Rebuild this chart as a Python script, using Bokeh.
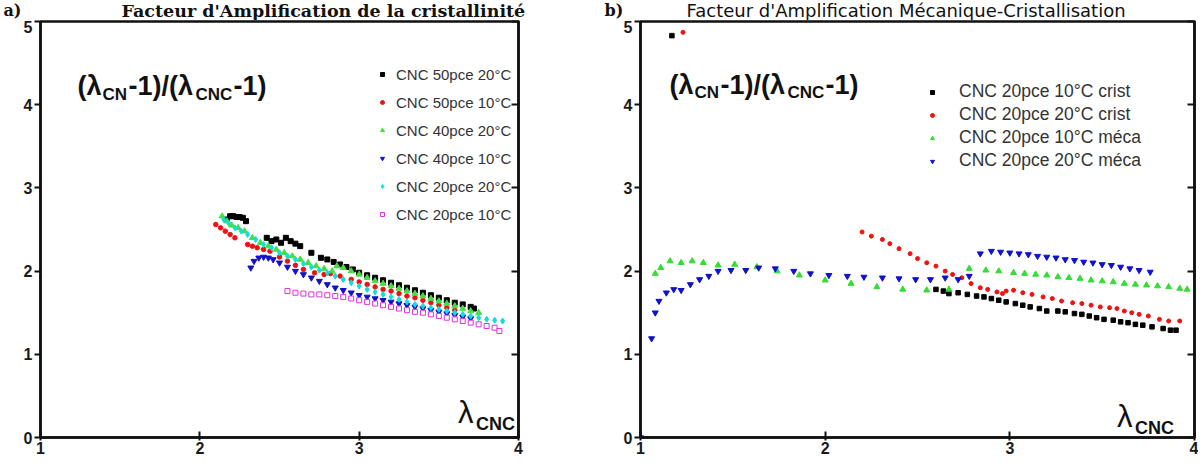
from bokeh.plotting import figure
from bokeh.models import Range1d, LinearAxis, Legend, LegendItem, Label, FixedTicker
from bokeh.layouts import row, column
from bokeh.embed import file_html
from bokeh.resources import INLINE

# ---------------- data: panel a) ----------------
a_labels = ["CNC 50pce 20°C", "CNC 50pce 10°C", "CNC 40pce 20°C",
            "CNC 40pce 10°C", "CNC 20pce 20°C", "CNC 20pce 10°C"]

a50_20_x = [2.17, 2.19, 2.21, 2.23, 2.25, 2.27, 2.29, 2.42, 2.45, 2.48, 2.51, 2.54, 2.57, 2.60, 2.63,
            2.70, 2.76, 2.80, 2.84, 2.88, 2.92, 2.96, 3.00, 3.05, 3.10, 3.15, 3.20, 3.25, 3.30, 3.35,
            3.40, 3.45, 3.50, 3.55, 3.60, 3.65, 3.70, 3.72]
a50_20_y = [2.62, 2.66, 2.66, 2.65, 2.65, 2.64, 2.60, 2.40, 2.36, 2.38, 2.34, 2.40, 2.36, 2.33, 2.30,
            2.22, 2.16, 2.14, 2.11, 2.08, 2.05, 2.02, 1.98, 1.95, 1.92, 1.89, 1.86, 1.83, 1.80, 1.77,
            1.74, 1.71, 1.68, 1.65, 1.62, 1.60, 1.57, 1.55]

a50_10_x = [2.10, 2.13, 2.16, 2.19, 2.22, 2.30, 2.33, 2.36, 2.40, 2.44, 2.50, 2.55, 2.60, 2.65,
            2.72, 2.78, 2.82, 2.88, 2.95, 3.00, 3.05, 3.10, 3.15, 3.20, 3.25, 3.30, 3.35, 3.40,
            3.45, 3.50, 3.55, 3.60]
a50_10_y = [2.56, 2.52, 2.48, 2.44, 2.40, 2.32, 2.30, 2.28, 2.26, 2.24, 2.17, 2.12, 2.07, 2.02,
            1.98, 1.96, 1.97, 1.94, 1.90, 1.87, 1.84, 1.81, 1.78, 1.76, 1.73, 1.70, 1.68, 1.65,
            1.62, 1.59, 1.56, 1.53]

a40_20_x = [2.14, 2.17, 2.20, 2.24, 2.28, 2.33, 2.38, 2.43, 2.48, 2.53, 2.58, 2.63, 2.68, 2.73,
            2.78, 2.83, 2.86, 2.90, 2.95, 3.00, 3.05, 3.10, 3.15, 3.20, 3.25, 3.30, 3.35, 3.40,
            3.45, 3.50, 3.55, 3.60, 3.65, 3.70, 3.75]
a40_20_y = [2.66, 2.60, 2.55, 2.52, 2.48, 2.40, 2.34, 2.30, 2.26, 2.22, 2.18, 2.14, 2.10, 2.06,
            2.03, 2.00, 2.06, 2.04, 2.00, 1.96, 1.92, 1.88, 1.85, 1.82, 1.79, 1.76, 1.73, 1.70,
            1.67, 1.64, 1.61, 1.58, 1.55, 1.52, 1.50]

a40_10_x = [2.32, 2.34, 2.37, 2.40, 2.43, 2.46, 2.50, 2.55, 2.60, 2.65, 2.70, 2.75, 2.80, 2.85,
            2.90, 2.95, 3.00, 3.05, 3.10, 3.15, 3.20, 3.25, 3.30, 3.35, 3.40, 3.45, 3.50, 3.55,
            3.60, 3.65, 3.70]
a40_10_y = [2.04, 2.12, 2.16, 2.17, 2.16, 2.14, 2.10, 2.05, 2.00, 1.96, 1.92, 1.88, 1.84, 1.80,
            1.77, 1.74, 1.71, 1.69, 1.67, 1.65, 1.63, 1.61, 1.59, 1.57, 1.55, 1.53, 1.51, 1.49,
            1.47, 1.45, 1.43]

a20_20_x = [2.15, 2.18, 2.22, 2.26, 2.30, 2.35, 2.40, 2.45, 2.50, 2.55, 2.60, 2.65, 2.70, 2.75,
            2.80, 2.85, 2.90, 2.95, 3.00, 3.05, 3.10, 3.15, 3.20, 3.25, 3.30, 3.35, 3.40, 3.45,
            3.50, 3.55, 3.60, 3.65, 3.70, 3.75, 3.80, 3.85, 3.90]
a20_20_y = [2.62, 2.58, 2.52, 2.48, 2.44, 2.38, 2.32, 2.28, 2.22, 2.18, 2.14, 2.09, 2.05, 2.01,
            1.98, 1.94, 1.90, 1.86, 1.82, 1.78, 1.75, 1.72, 1.69, 1.66, 1.63, 1.60, 1.58, 1.56,
            1.54, 1.52, 1.50, 1.48, 1.46, 1.44, 1.42, 1.41, 1.40]

a20_10_x = [2.55, 2.60, 2.65, 2.70, 2.75, 2.80, 2.85, 2.90, 2.95, 3.00, 3.05, 3.10, 3.15, 3.20,
            3.25, 3.30, 3.35, 3.40, 3.45, 3.50, 3.55, 3.60, 3.65, 3.70, 3.75, 3.80, 3.85, 3.88]
a20_10_y = [1.76, 1.74, 1.73, 1.72, 1.72, 1.71, 1.70, 1.69, 1.67, 1.65, 1.63, 1.61, 1.59, 1.57,
            1.55, 1.53, 1.51, 1.50, 1.48, 1.46, 1.44, 1.42, 1.40, 1.38, 1.36, 1.34, 1.32, 1.28]

# ---------------- data: panel b) ----------------
b_labels = ["CNC 20pce 10°C crist", "CNC 20pce 20°C crist",
            "CNC 20pce 10°C méca", "CNC 20pce 20°C méca"]

b10c_x = [1.17, 2.60, 2.64, 2.67, 2.72, 2.77, 2.82, 2.86, 2.90, 2.94, 2.98, 3.03, 3.07, 3.11,
          3.16, 3.20, 3.26, 3.30, 3.35, 3.39, 3.43, 3.47, 3.51, 3.56, 3.60, 3.64, 3.68, 3.72,
          3.77, 3.83, 3.87, 3.90]
b10c_y = [4.83, 1.78, 1.76, 1.73, 1.74, 1.72, 1.70, 1.69, 1.67, 1.65, 1.63, 1.61, 1.59, 1.57,
          1.55, 1.52, 1.52, 1.51, 1.49, 1.48, 1.46, 1.44, 1.42, 1.41, 1.39, 1.38, 1.36, 1.35,
          1.33, 1.31, 1.29, 1.29]

b20c_x = [1.23, 2.20, 2.25, 2.31, 2.35, 2.40, 2.46, 2.50, 2.55, 2.60, 2.65, 2.69, 2.74, 2.79,
          2.84, 2.88, 2.93, 2.96, 2.98, 3.02, 3.07, 3.12, 3.18, 3.23, 3.28, 3.34, 3.39, 3.44,
          3.49, 3.54, 3.58, 3.62, 3.66, 3.70, 3.75, 3.81, 3.86, 3.92]
b20c_y = [4.87, 2.47, 2.42, 2.38, 2.33, 2.27, 2.21, 2.15, 2.10, 2.06, 2.00, 1.96, 1.92, 1.85,
          1.80, 1.78, 1.75, 1.73, 1.76, 1.77, 1.74, 1.72, 1.69, 1.67, 1.64, 1.62, 1.61, 1.59,
          1.57, 1.56, 1.55, 1.52, 1.50, 1.48, 1.46, 1.42, 1.40, 1.40]

b10m_x = [1.08, 1.11, 1.16, 1.22, 1.28, 1.34, 1.42, 1.51, 1.63, 1.74, 1.86, 2.00, 2.14, 2.28,
          2.42, 2.55, 2.67, 2.78, 2.87, 2.94, 3.02, 3.08, 3.14, 3.20, 3.26, 3.32, 3.38, 3.44,
          3.50, 3.56, 3.62, 3.68, 3.74, 3.80, 3.86, 3.92, 3.96]
b10m_y = [1.97, 2.04, 2.12, 2.10, 2.12, 2.10, 2.07, 2.08, 2.05, 2.00, 1.95, 1.89, 1.85, 1.81,
          1.78, 1.77, 1.78, 2.03, 2.01, 2.00, 1.98, 1.97, 1.96, 1.95, 1.93, 1.92, 1.91, 1.89,
          1.88, 1.87, 1.85, 1.84, 1.83, 1.82, 1.81, 1.79, 1.78]

b20m_x = [1.00, 1.06, 1.08, 1.10, 1.14, 1.18, 1.22, 1.27, 1.32, 1.37, 1.42, 1.49, 1.57, 1.64,
          1.73, 1.83, 1.92, 2.02, 2.12, 2.21, 2.31, 2.40, 2.49, 2.57, 2.65, 2.72, 2.78, 2.84,
          2.90, 2.95, 3.00, 3.05, 3.10, 3.15, 3.20, 3.25, 3.30, 3.35, 3.40, 3.45, 3.50, 3.55,
          3.60, 3.65, 3.70, 3.76]
b20m_y = [0.00, 1.19, 1.50, 1.64, 1.74, 1.78, 1.77, 1.84, 1.90, 1.94, 2.00, 2.01, 2.01, 2.04,
          2.03, 2.00, 1.97, 1.95, 1.94, 1.93, 1.92, 1.91, 1.90, 1.90, 1.92, 1.90, 1.94, 2.21,
          2.24, 2.23, 2.22, 2.21, 2.20, 2.18, 2.17, 2.16, 2.14, 2.13, 2.11, 2.10, 2.08, 2.07,
          2.05, 2.03, 2.01, 1.99]

x_ticks = [1, 2, 3, 4]
y_ticks = [0, 1, 2, 3, 4, 5]

SANS = "Liberation Sans"
INK = "#111111"


def base_fig(frame_w, border_l, border_r):
    p = figure(frame_width=frame_w, frame_height=416, output_backend="svg",
               toolbar_location=None, x_range=Range1d(1, 4), y_range=Range1d(0, 5),
               min_border_left=border_l, min_border_right=border_r,
               min_border_top=1, min_border_bottom=25,
               x_axis_location=None, y_axis_location=None)
    p.xgrid.visible = False
    p.ygrid.visible = False
    p.outline_line_color = INK
    p.outline_line_width = 2.5
    p.outline_line_alpha = 1
    p.background_fill_color = "white"
    xt = FixedTicker(ticks=x_ticks)
    yt = FixedTicker(ticks=y_ticks)
    lab = dict(major_label_text_font=SANS, major_label_text_font_style="bold",
               major_label_text_font_size="16px", major_label_text_color="#1a1a1a")
    common = dict(minor_tick_line_color=None, axis_line_width=2.5, major_tick_line_width=2,
                  axis_line_color=INK, major_tick_line_color=INK)
    bottom = LinearAxis(ticker=xt, major_tick_in=6, major_tick_out=3, major_label_standoff=1,
                        **common, **lab)
    left = LinearAxis(ticker=yt, major_tick_in=0, major_tick_out=6, major_label_standoff=2,
                      **common, **lab)
    right = LinearAxis(ticker=yt, major_tick_in=7, major_tick_out=1, major_label_standoff=0,
                       major_label_overrides={t: " " for t in y_ticks},
                       major_label_text_font_size="1px", **common)
    p.add_layout(bottom, "below")
    p.add_layout(left, "left")
    p.add_layout(right, "right")
    return p


def ratio_label(p, x0, y0):
    # (λCN-1)/(λCNC-1) composed of pieces; offsets in pixels
    pieces = [("(λ", 0, 0, "27px"), ("CN", 25, -8, "17px"), ("-1)/(λ", 51, 0, "27px"),
              ("CNC", 118, -8, "17px"), ("-1)", 156, 0, "27px")]
    for txt, dx, dy, fs in pieces:
        p.add_layout(Label(x=x0, y=y0, x_offset=dx, y_offset=dy, text=txt, text_font=SANS,
                           text_font_style="bold", text_font_size=fs, text_color=INK,
                           text_baseline="alphabetic"))


def lambda_label(p, x0, y0):
    p.add_layout(Label(x=x0, y=y0, text="λ", text_font=SANS, text_font_size="31px",
                       text_color=INK, text_baseline="alphabetic"))
    p.add_layout(Label(x=x0, y=y0, x_offset=18, y_offset=-11, text="CNC", text_font=SANS,
                       text_font_style="bold", text_font_size="18px", text_color=INK,
                       text_baseline="alphabetic"))


# ---------------- title strip ----------------
head = figure(width=1198, height=20, output_backend="svg", toolbar_location=None,
              x_range=Range1d(0, 1198), y_range=Range1d(0, 20), min_border=0,
              x_axis_location=None, y_axis_location=None)
head.xgrid.visible = False
head.ygrid.visible = False
head.outline_line_color = None
head.add_layout(Label(x=3, y=10, text="a)", text_font="DejaVu Serif", text_font_style="bold",
                      text_font_size="16px", text_color=INK, text_baseline="middle"))
head.add_layout(Label(x=121, y=10, text="Facteur d'Amplification de la cristallinité",
                      text_font="DejaVu Serif", text_font_style="bold", text_font_size="17.5px",
                      text_color=INK, text_baseline="middle"))
head.add_layout(Label(x=604, y=10, text="b)", text_font="DejaVu Serif", text_font_style="bold",
                      text_font_size="16px", text_color=INK, text_baseline="middle"))
head.add_layout(Label(x=686, y=10, text="Facteur d'Amplification Mécanique-Cristallisation",
                      text_font="DejaVu Sans", text_font_size="18px", text_color=INK,
                      text_baseline="middle"))

# ---------------- panel a) ----------------
pa = base_fig(478, 40, 82)
ra = [
    pa.scatter(a50_20_x, a50_20_y, marker="square", size=5, color="black"),
    pa.scatter(a50_10_x, a50_10_y, marker="circle", size=4.5, color="#ee1111"),
    pa.scatter(a40_20_x, a40_20_y, marker="triangle", size=6, color="#44dd44"),
    pa.scatter(a40_10_x, a40_10_y, marker="inverted_triangle", size=6, color="#1111cc"),
    pa.scatter(a20_20_x, a20_20_y, marker="diamond", size=6, color="#11dddd"),
    pa.scatter(a20_10_x, a20_10_y, marker="square", size=5, line_color="#dd33dd",
               fill_color="white", line_width=1),
]
leg_a = Legend(items=[LegendItem(label=l, renderers=[r]) for l, r in zip(a_labels, ra)],
               location=(337, 213), border_line_color=None, background_fill_alpha=0,
               padding=0, spacing=8, glyph_height=20, label_height=20, glyph_width=10,
               label_standoff=9, label_text_font=SANS, label_text_font_size="15px",
               label_text_color="#333333")
pa.add_layout(leg_a)
ratio_label(pa, 1.232, 4.22)
lambda_label(pa, 3.62, 0.3)

# ---------------- panel b) ----------------
pb = base_fig(554, 40, 3)
rb = [
    pb.scatter(b10c_x, b10c_y, marker="square", size=4.5, color="black"),
    pb.scatter(b20c_x, b20c_y, marker="circle", size=4, color="#ee1111"),
    pb.scatter(b10m_x, b10m_y, marker="triangle", size=6, color="#33dd33"),
    pb.scatter(b20m_x, b20m_y, marker="inverted_triangle", size=6, color="#1111cc"),
]
leg_b = Legend(items=[LegendItem(label=l, renderers=[r]) for l, r in zip(b_labels, rb)],
               location=(287, 266), border_line_color=None, background_fill_alpha=0,
               padding=0, spacing=2, glyph_height=18, label_height=18, glyph_width=10,
               label_standoff=22, label_text_font=SANS, label_text_font_size="17.5px",
               label_text_color="#333333")
pb.add_layout(leg_b)
ratio_label(pb, 1.157, 4.24)
lambda_label(pb, 3.58, 0.25)

layout = column(head, row(pa, pb, spacing=0), spacing=0)
open("out.html", "w").write(file_html(layout, INLINE))
